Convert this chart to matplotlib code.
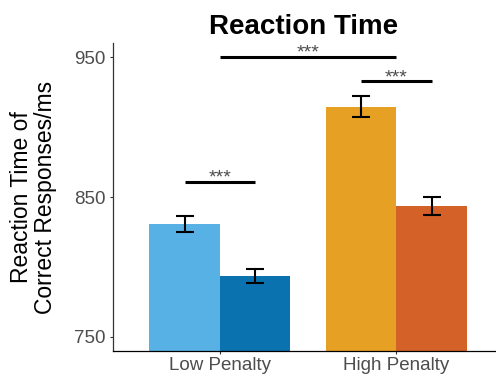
import matplotlib
matplotlib.use("Agg")
import matplotlib.pyplot as plt
import numpy as np

# data
penalty = ["Low Penalty", "High Penalty"]
low_vals = [830.7, 914.5]    # first bar of each group
high_vals = [793.6, 843.6]   # second bar of each group
low_err = [5.7, 7.3]
high_err = [5.3, 6.1]
colors_first = ["#58B1E4", "#E6A024"]
colors_second = ["#0B72B0", "#D46128"]

# significance brackets: (x_start, x_end, y, label)
sig_x0 = [0.8, 1.0, 1.8]
sig_x1 = [1.2, 2.0, 2.2]
sig_y = [861, 950, 932.6]
sig_lab = ["***", "***", "***"]

plt.rcParams['font.family'] = ['Liberation Sans', 'DejaVu Sans']

fig = plt.figure(figsize=(4.96, 3.74), dpi=100)
ax = fig.add_axes([0.228, 0.0615, 0.77, 0.8235])

x = np.arange(1, len(penalty) + 1)
w = 0.4
ax.bar(x - w / 2, low_vals, width=w, color=colors_first, zorder=2)
ax.bar(x + w / 2, high_vals, width=w, color=colors_second, zorder=2)
ax.errorbar(x - w / 2, low_vals, yerr=low_err, fmt='none', ecolor='black',
            elinewidth=1.5, capsize=6.8, capthick=1.5, zorder=3)
ax.errorbar(x + w / 2, high_vals, yerr=high_err, fmt='none', ecolor='black',
            elinewidth=1.5, capsize=6.8, capthick=1.5, zorder=3)

for x0, x1, y, lab in zip(sig_x0, sig_x1, sig_y, sig_lab):
  ax.plot([x0, x1], [y, y], color='black', lw=2.2, solid_capstyle='butt', zorder=4)
  ax.text((x0 + x1) / 2, y - 0.5, lab, ha='center', va='baseline',
          fontsize=14, color='#4D4D4D')

ax.set_ylim(740, 960)
ax.set_xlim(0.395, 2.56)
ax.set_yticks([750, 850, 950])
ax.set_xticks(x)
ax.set_xticklabels(penalty)
ax.tick_params(axis='both', colors='#333333', labelcolor='#4D4D4D',
               labelsize=13.5, length=2.5, width=0.8)
ax.tick_params(axis='x', pad=1.5)
ax.tick_params(axis='y', pad=3)

ax.set_ylabel("Reaction Time of\nCorrect Responses/ms", fontsize=16.5,
              color='black', labelpad=12.5, linespacing=1.05)
ax.set_title("Reaction Time", fontsize=20, fontweight='bold', pad=6.5)

ax.spines['top'].set_visible(False)
ax.spines['right'].set_visible(False)
ax.spines['left'].set_color('#333333')
ax.spines['bottom'].set_color('black')
ax.spines['left'].set_linewidth(0.9)
ax.spines['bottom'].set_linewidth(0.9)

fig.savefig("out.png", dpi=100)
